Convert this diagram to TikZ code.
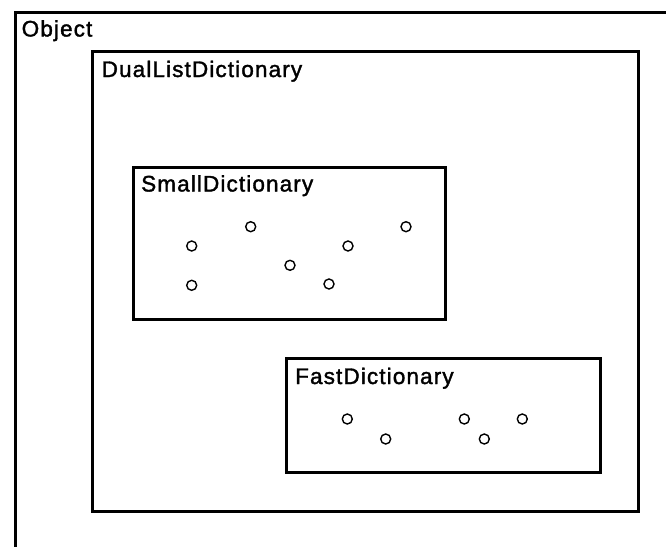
\documentclass[tikz,border=0pt]{standalone}
\usepackage{fontspec}
\setmainfont{Liberation Sans}[LetterSpace=5,FakeBold=1.6]
\begin{document}
\begin{tikzpicture}[x=1pt,y=-1pt,
  box/.style={draw=black, line width=2.8pt, rectangle, inner sep=0pt, anchor=north west},
  lbl/.style={anchor=base west, inner sep=0pt, font=\fontsize{22.5}{26}\selectfont},
  dot/.style={draw=black, line width=1.4pt, circle, inner sep=0pt, minimum size=10pt}]
\useasboundingbox (0,0) rectangle (666,546);
\clip (0,0) rectangle (666,546);
% outer Object box (extends beyond the picture on the right and bottom)
\node[box, line width=3pt, minimum width=700pt, minimum height=600pt] (object) at (13.5,10.5) {};
\node[lbl] (objectlbl) at (21.5,36.5) {Object};
% DualListDictionary
\node[box, minimum width=546pt, minimum height=460.5pt] (dual) at (90.7,49.7) {};
\node[lbl] (duallbl) at (101.5,77) {DualListDictionary};
% SmallDictionary
\node[box, minimum width=312.5pt, minimum height=152pt] (small) at (131.7,166) {};
\node[lbl] (smalllbl) at (141,191.5) {SmallDictionary};
\node[dot] (s1) at (191.7,246) {};
\node[dot] (s2) at (250.7,226.7) {};
\node[dot] (s3) at (191.7,285.3) {};
\node[dot] (s4) at (290,265.3) {};
\node[dot] (s5) at (348,246) {};
\node[dot] (s6) at (329,284) {};
\node[dot] (s7) at (406,226.7) {};
% FastDictionary
\node[box, minimum width=314pt, minimum height=114pt] (fast) at (285,357) {};
\node[lbl] (fastlbl) at (295,384) {FastDictionary};
\node[dot] (f1) at (347.3,419) {};
\node[dot] (f2) at (385.7,439) {};
\node[dot] (f3) at (464.3,419) {};
\node[dot] (f4) at (484.3,439) {};
\node[dot] (f5) at (522.3,419) {};
\end{tikzpicture}
\end{document}
